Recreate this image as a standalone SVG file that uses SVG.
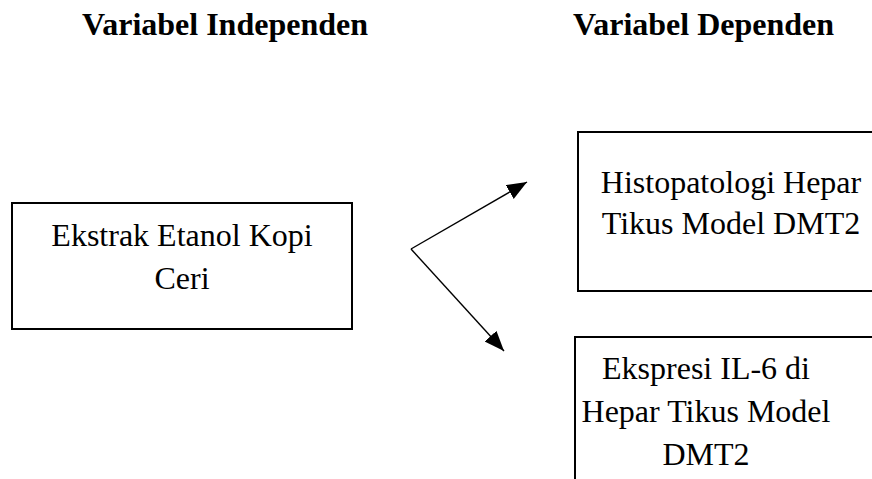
<svg xmlns="http://www.w3.org/2000/svg" width="872" height="479" viewBox="0 0 872 479">
<style>
.box{fill:#fff;stroke:#000;stroke-width:2}
.t{font-family:"Liberation Serif","Times New Roman",serif;font-size:32px;fill:#000;text-anchor:middle}
.h{font-family:"Liberation Serif","Times New Roman",serif;font-size:32px;font-weight:bold;fill:#000}
.c{stroke:#000;stroke-width:1.4;fill:none}
</style>
<defs>
<marker id="ah" markerUnits="userSpaceOnUse" markerWidth="22" markerHeight="18" refX="20" refY="8" orient="auto">
<path d="M0,0 L20,8 L0,16 Z" fill="#000"/>
</marker>
</defs>
<text class="h" x="82" y="35">Variabel Independen</text>
<text class="h" x="573" y="35">Variabel Dependen</text>
<g id="n1">
<rect class="box" x="12" y="203" width="340" height="126"/>
<text class="t" x="182" y="246">Ekstrak Etanol Kopi</text>
<text class="t" x="182" y="289">Ceri</text>
</g>
<g id="n2">
<rect class="box" x="578" y="132" width="320" height="159"/>
<text class="t" x="731" y="193">Histopatologi Hepar</text>
<text class="t" x="731" y="234">Tikus Model DMT2</text>
</g>
<g id="n3">
<rect class="box" x="575" y="337" width="320" height="160"/>
<text class="t" x="706" y="379">Ekspresi IL-6 di</text>
<text class="t" x="706" y="422">Hepar Tikus Model</text>
<text class="t" x="706" y="465">DMT2</text>
</g>
<g id="connectors">
<line class="c" x1="411" y1="249" x2="527" y2="182" marker-end="url(#ah)"/>
<line class="c" x1="411" y1="249" x2="504" y2="351" marker-end="url(#ah)"/>
</g>
</svg>
